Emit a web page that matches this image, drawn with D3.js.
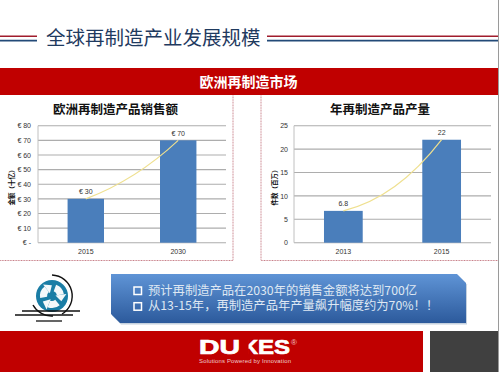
<!DOCTYPE html>
<html>
<head>
<meta charset="utf-8">
<script src="https://cdn.jsdelivr.net/npm/d3@7"></script>
<style>
  html, body { margin: 0; padding: 0; background: #fff; }
  svg { display: block; font-family: "Noto Sans CJK SC", "Noto Sans", sans-serif; }
</style>
</head>
<body>
<svg id="chart" width="500" height="372"></svg>
<script>
const salesYears = ["2015", "2030"];
const salesValues = [30, 70];
const salesTicks = [0, 10, 20, 30, 40, 50, 60, 70, 80];
const outputYears = ["2013", "2015"];
const outputValues = [6.8, 22];
const outputTicks = [0, 5, 10, 15, 20, 25];
const bulletLines = [
  "预计再制造产品在2030年的销售金额将达到700亿",
  "从13-15年，再制造产品年产量飙升幅度约为70%！！"
];

const svg = d3.select("#chart");
const red = "#c00000";
const navy = "#1f3a5f";
const barBlue = "#4a7ebb";

// header
function headerRule(x1, x2) {
  svg.append("line").attr("x1", x1).attr("x2", x2).attr("y1", 36.3).attr("y2", 36.3)
    .attr("stroke", "#a01c2c").attr("stroke-width", 1.6);
  svg.append("line").attr("x1", x1).attr("x2", x2).attr("y1", 40.6).attr("y2", 40.6)
    .attr("stroke", "#234a78").attr("stroke-width", 1.6);
}
headerRule(0, 37);
headerRule(267, 498);

svg.append("text")
  .attr("x", 46).attr("y", 45)
  .attr("font-size", 19.5)
  .attr("fill", navy)
  .text("全球再制造产业发展规模");

svg.append("rect").attr("x", 0).attr("y", 68).attr("width", 498).attr("height", 27).attr("fill", red);
svg.append("text")
  .attr("x", 248.5).attr("y", 87)
  .attr("text-anchor", "middle")
  .attr("font-size", 14)
  .attr("font-weight", "bold")
  .attr("fill", "#fff")
  .text("欧洲再制造市场");

// panel borders, open on the sides that run off the slide
svg.append("path")
  .attr("d", "M233,95.5V260.5H0")
  .attr("fill", "none").attr("stroke", "#c8808a").attr("stroke-width", 1).attr("stroke-dasharray", "1 0.6");
svg.append("path")
  .attr("d", "M261,95.5V260.5H498")
  .attr("fill", "none").attr("stroke", "#c8808a").attr("stroke-width", 1).attr("stroke-dasharray", "1 0.6");

function drawChart(opts) {
  const x = d3.scaleBand()
    .domain(opts.categories)
    .range([opts.left, opts.right])
    .paddingInner(0.606)
    .paddingOuter(opts.outer);

  const y = d3.scaleLinear()
    .domain(opts.domain)
    .range([242.7, 125.7]);

  svg.append("text")
    .attr("x", opts.titleX).attr("y", 113.5)
    .attr("text-anchor", "middle")
    .attr("font-size", 12.5)
    .attr("font-weight", "bold")
    .attr("fill", "#111")
    .text(opts.title);

  svg.append("g")
    .selectAll("line")
    .data(opts.ticks)
    .enter()
    .append("line")
    .attr("x1", opts.left).attr("x2", opts.right)
    .attr("y1", d => y(d)).attr("y2", d => y(d))
    .attr("stroke", "#adadad").attr("stroke-width", 1.1);

  svg.append("line")
    .attr("x1", opts.left).attr("x2", opts.left)
    .attr("y1", y.range()[0]).attr("y2", y.range()[1])
    .attr("stroke", "#c0c0c0");

  const yAxis = d3.axisLeft(y).tickValues(opts.ticks).tickSize(0).tickPadding(opts.tickPad).tickFormat(opts.format);
  const yg = svg.append("g").attr("transform", `translate(${opts.left},0)`).call(yAxis);
  yg.select(".domain").remove();
  yg.selectAll("text").attr("font-size", 7).attr("fill", "#333").attr("font-family", "Liberation Sans");

  const xAxis = d3.axisBottom(x).tickSize(0).tickPadding(6);
  const xg = svg.append("g").attr("transform", "translate(0,242.7)").call(xAxis);
  xg.select(".domain").remove();
  xg.selectAll("text").attr("font-size", 7).attr("fill", "#333").attr("font-family", "Liberation Sans");

  svg.append("g")
    .selectAll("rect")
    .data(opts.values)
    .enter()
    .append("rect")
    .attr("x", (d, i) => x(opts.categories[i]))
    .attr("y", d => y(d))
    .attr("width", x.bandwidth())
    .attr("height", d => y(0) - y(d))
    .attr("fill", barBlue);

  svg.append("g")
    .selectAll("text")
    .data(opts.values)
    .enter()
    .append("text")
    .attr("x", (d, i) => x(opts.categories[i]) + x.bandwidth() / 2)
    .attr("y", d => y(d) - 4.5)
    .attr("text-anchor", "middle")
    .attr("font-size", 7)
    .attr("font-family", "Liberation Sans")
    .attr("fill", "#333")
    .text(opts.labelFormat);

  // yellow growth curve between the two bars
  const x0 = x(opts.categories[0]) + x.bandwidth() / 2;
  const x1 = x(opts.categories[1]) + x.bandwidth() / 2;
  const p = d3.path();
  p.moveTo(x0, y(opts.values[0]));
  p.quadraticCurveTo((x0 + x1) / 2 + 4, y(opts.curveControl), x1, y(opts.values[1]));
  svg.append("path").attr("d", p.toString()).attr("fill", "none").attr("stroke", "#efe08f").attr("stroke-width", 1.2);

  svg.append("text")
    .attr("transform", `translate(${opts.axisLabelX},186) rotate(-90)`)
    .attr("text-anchor", "middle")
    .attr("dominant-baseline", "central")
    .attr("font-size", 6.5)
    .attr("font-weight", "bold")
    .attr("fill", "#111")
    .text(opts.axisLabel);
}

drawChart({
  categories: salesYears, values: salesValues, ticks: salesTicks, domain: [0, 80],
  left: 38, right: 226, outer: 0.32, tickPad: 7,
  format: d => d === 0 ? "€ -" : "€ " + d,
  labelFormat: d => "€ " + d,
  curveControl: 43,
  title: "欧洲再制造产品销售额", titleX: 115.5,
  axisLabel: "金额（十亿）", axisLabelX: 11
});

drawChart({
  categories: outputYears, values: outputValues, ticks: outputTicks, domain: [0, 25],
  left: 294, right: 491, outer: 0.305, tickPad: 6,
  format: d => d,
  labelFormat: d => d,
  curveControl: 9.5,
  title: "年再制造产品产量", titleX: 380,
  axisLabel: "件数（百万）", axisLabelX: 274
});

// callout
const defs = svg.append("defs");
const grad = defs.append("linearGradient").attr("id", "callout").attr("x1", 0).attr("x2", 0).attr("y1", 0).attr("y2", 1);
grad.append("stop").attr("offset", "0%").attr("stop-color", "#5f94d6");
grad.append("stop").attr("offset", "100%").attr("stop-color", "#2c5a9c");
const calloutShape = "M111,274H457L466,283V323H120L111,314Z";
svg.append("path").attr("d", calloutShape).attr("fill", "#9fb3c8").attr("opacity", 0.6).attr("transform", "translate(1,1.5)");
svg.append("path").attr("d", calloutShape).attr("fill", "url(#callout)");

svg.append("g")
  .selectAll("rect")
  .data(bulletLines)
  .enter()
  .append("rect")
  .attr("x", 134)
  .attr("y", (d, i) => 287 + i * 15.7)
  .attr("width", 7.5).attr("height", 7.5)
  .attr("fill", "none").attr("stroke", "#fff").attr("stroke-width", 1.5);

svg.append("g")
  .selectAll("text")
  .data(bulletLines)
  .enter()
  .append("text")
  .attr("x", 148)
  .attr("y", (d, i) => 294.7 + i * 15.7)
  .attr("font-size", 12.3)
  .attr("fill", "#dfe8f3")
  .text(d => d);

// footer
svg.append("rect").attr("x", 0).attr("y", 331).attr("width", 423).attr("height", 41).attr("fill", red);
svg.append("rect").attr("x", 430).attr("y", 331).attr("width", 68).attr("height", 41).attr("fill", "#404040");
svg.append("line").attr("x1", 498.5).attr("x2", 498.5).attr("y1", 0).attr("y2", 372).attr("stroke", "#9a9a9a");

// logo: the K has no stem, so it is set apart and its stem masked
function logoText(str, x, width) {
  svg.append("text")
    .attr("x", x).attr("y", 354)
    .attr("font-family", "Liberation Sans")
    .attr("font-size", 20)
    .attr("font-weight", "bold")
    .attr("fill", "#fff")
    .attr("stroke", "#fff")
    .attr("stroke-width", 0.7)
    .attr("textLength", width)
    .attr("lengthAdjust", "spacingAndGlyphs")
    .text(str);
}
logoText("DU", 199, 41);
logoText("K", 243, 15);
svg.append("rect").attr("x", 241).attr("y", 338).attr("width", 7.5).attr("height", 18).attr("fill", red);
logoText("ES", 258, 32);
svg.append("text")
  .attr("x", 291).attr("y", 345)
  .attr("font-family", "Liberation Sans")
  .attr("font-size", 8)
  .attr("fill", "#f0c0c0")
  .text("®");
svg.append("text")
  .attr("x", 199).attr("y", 363)
  .attr("font-family", "Liberation Sans")
  .attr("font-size", 6)
  .attr("fill", "#eecccc")
  .attr("textLength", 92)
  .text("Solutions Powered by Innovation");

// recycling icon
const icon = svg.append("g").attr("transform", "translate(52,296)");
icon.append("circle").attr("r", 16).attr("fill", "#1a7da5");
const blade = d3.arc().innerRadius(5).outerRadius(12);
[20, 140, 260].forEach(a => {
  const end = a + 62;
  icon.append("path")
    .attr("d", blade({ startAngle: a * Math.PI / 180, endAngle: end * Math.PI / 180 }))
    .attr("fill", "#f4f8fa");
  icon.append("path")
    .attr("d", "M0,-14.5L0,-3.5L6.5,-8.5Z")
    .attr("fill", "#f4f8fa")
    .attr("transform", `rotate(${end})`);
});
icon.append("path")
  .attr("d", "M0,-21A21,21 0 0 1 10,18")
  .attr("fill", "none").attr("stroke", "#111").attr("stroke-width", 1.4);
icon.append("path")
  .attr("d", "M-19,9A21,21 0 0 0 1,20")
  .attr("fill", "none").attr("stroke", "#111").attr("stroke-width", 1.4);
[[-30, 28, 15], [-37, 21, 19], [-16, 10, 25]].forEach(d => {
  icon.append("line").attr("x1", d[0]).attr("x2", d[1]).attr("y1", d[2]).attr("y2", d[2])
    .attr("stroke", "#111").attr("stroke-width", 1.3);
});
</script>
</body>
</html>
